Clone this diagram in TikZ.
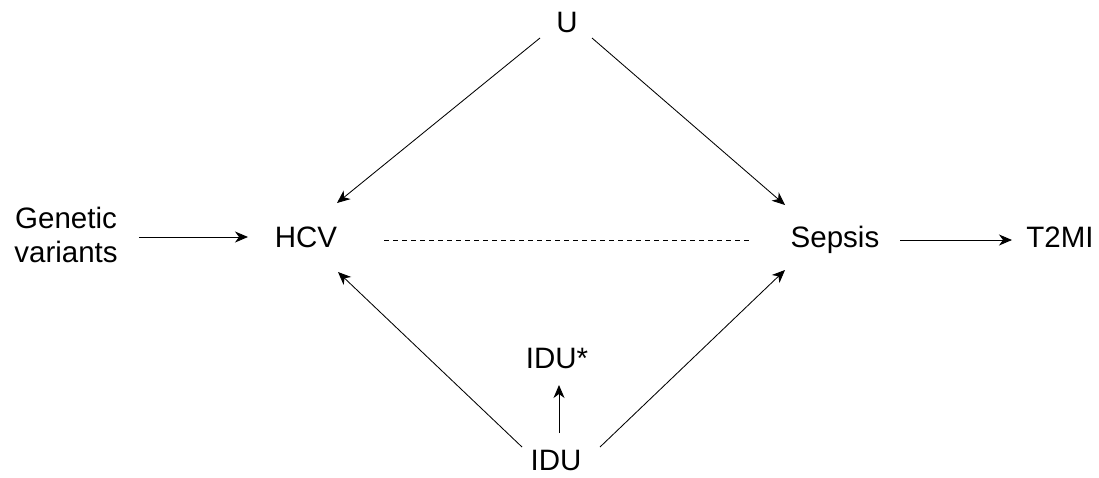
\documentclass[tikz,border=0pt]{standalone}
\usepackage{fontspec}
\setmainfont{Liberation Sans}
\usetikzlibrary{arrows.meta}
\begin{document}
\begin{tikzpicture}[x=1pt,y=-1pt,
  lbl/.style={font=\fontsize{29.5}{34}\selectfont, inner sep=0pt, align=center},
  arr/.style={-{Stealth[length=13pt,width=11pt,inset=4pt]}, line width=0.85pt},
  dashline/.style={line width=0.8pt, dash pattern=on 5pt off 4pt}]
\useasboundingbox (0,0) rectangle (1099,477);
\node[lbl, anchor=base] (u) at (567,32) {U};
\node[lbl] (gv) at (66,235) {Genetic\\variants};
\node[lbl, anchor=base] (hcv) at (306,247) {HCV};
\node[lbl, anchor=base] (sep) at (835,247) {Sepsis};
\node[lbl, anchor=base] (t2mi) at (1060,247) {T2MI};
\node[lbl, anchor=base] (idus) at (557,368) {IDU*};
\node[lbl, anchor=base] (idu) at (556,470) {IDU};
\draw[arr] ([xshift=21pt,yshift=-2pt]gv.east) -- ([xshift=-58pt,yshift=10pt]hcv.base);
\draw[arr] ([xshift=65pt,yshift=7pt]sep.base) -- ([xshift=-48pt,yshift=7pt]t2mi.base);
\draw[dashline] ([xshift=78pt,yshift=7pt]hcv.base) -- ([xshift=-83pt,yshift=7pt]sep.base);
\draw[arr] ([xshift=-27pt,yshift=-6pt]u.base) -- ([xshift=31pt,yshift=44pt]hcv.base);
\draw[arr] ([xshift=25pt,yshift=-6pt]u.base) -- ([xshift=-50pt,yshift=42pt]sep.base);
\draw[arr] ([xshift=-34pt,yshift=23pt]idu.base) -- ([xshift=32pt,yshift=-25pt]hcv.base);
\draw[arr] ([xshift=44pt,yshift=23pt]idu.base) -- ([xshift=-50pt,yshift=-23pt]sep.base);
\draw[arr] ([xshift=3pt,yshift=37pt]idu.base) -- ([xshift=2pt,yshift=-17pt]idus.base);
\end{tikzpicture}
\end{document}
